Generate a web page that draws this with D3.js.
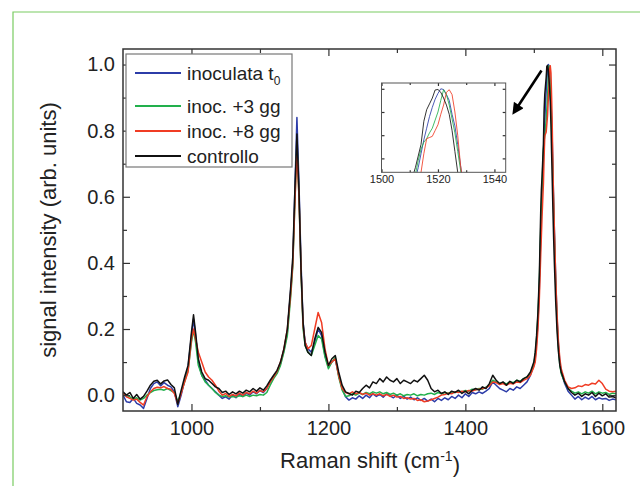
<!DOCTYPE html>
<html>
<head>
<meta charset="utf-8">
<script src="https://cdn.jsdelivr.net/npm/d3@7"></script>
<style>
  body { margin: 0; background: #fff; }
  svg { display: block; font-family: "Liberation Sans", Arial, sans-serif; }
</style>
</head>
<body>
<script>
// wavenumbers (cm-1), finer steps round the peaks
var wavenumber = [
  900, 905, 910, 915, 920, 925, 930, 935, 940, 945, 950, 955, 960, 965, 970, 975, 980, 985, 990, 995,
  1000, 1003, 1006, 1010,
  1015, 1020, 1025, 1030, 1035, 1040, 1045, 1050, 1055, 1060, 1065, 1070, 1075, 1080, 1085, 1090, 1095, 1100, 1105, 1110, 1115, 1120, 1125, 1130, 1135, 1140, 1145,
  1148, 1151, 1154, 1157, 1160, 1163,
  1166,
  1170, 1175, 1180, 1185, 1190, 1195, 1200, 1205, 1210, 1215,
  1220, 1225, 1230, 1235, 1240, 1245, 1250, 1255, 1260, 1265,
  1270, 1275, 1280, 1285, 1290, 1295, 1300, 1305, 1310, 1315,
  1320, 1325, 1330, 1335, 1340, 1345, 1350, 1355, 1360, 1365,
  1370, 1375, 1380, 1385, 1390, 1395, 1400, 1405, 1410, 1415,
  1420, 1425, 1430, 1435, 1440, 1445, 1450, 1455, 1460, 1465,
  1470, 1475, 1480, 1485, 1490, 1495, 1500,
  1502, 1504, 1506, 1508,
  1510, 1511, 1512, 1513, 1514, 1515, 1516, 1517, 1518, 1519, 1520, 1521, 1522, 1523, 1524, 1525, 1526, 1527, 1528, 1529, 1530,
  1532, 1534, 1536, 1538, 1540,
  1545, 1550, 1555, 1560, 1565, 1570, 1575, 1580, 1585, 1590, 1595, 1600, 1605, 1610, 1615, 1620
]

var inoculataT0 = [
  0.0, -0.02, -0.022, -0.01, -0.025, -0.03, -0.04, -0.01, 0.02, 0.035, 0.04, 0.028, 0.038, 0.03, 0.025, 0.01, -0.035, 0.0, 0.045, 0.085,
  0.18, 0.23, 0.18, 0.1,
  0.06, 0.045, 0.03, 0.02, 0.01, 0.0, -0.01, -0.005, -0.012, 0.0, -0.008, 0.004, -0.004, 0.006, 0.0, 0.01, 0.004, 0.014, 0.008, 0.02, 0.04, 0.055, 0.07, 0.095, 0.135, 0.19, 0.32,
  0.4, 0.62, 0.84, 0.64, 0.4, 0.22,
  0.16,
  0.14, 0.13, 0.16, 0.2, 0.18, 0.12, 0.085, 0.1, 0.11, 0.06,
  0.02, -0.005, -0.015, -0.008, -0.012, -0.002, -0.01, 0.0, -0.008, 0.004,
  -0.004, 0.002, -0.006, 0.004, -0.002, -0.008, 0.0, -0.01, -0.004, -0.012,
  -0.006, -0.014, -0.008, -0.016, -0.01, -0.018, -0.012, -0.02, -0.01, -0.016,
  -0.008, -0.014, -0.004, -0.01, 0.0, -0.008, 0.004, -0.004, 0.008, 0.004,
  0.01, 0.005, 0.012, 0.02, 0.04, 0.03, 0.02, 0.015, 0.01, 0.02,
  0.015, 0.025, 0.02, 0.03, 0.04, 0.06, 0.09,
  0.11, 0.16, 0.22, 0.32,
  0.48, 0.55, 0.61, 0.66, 0.72, 0.78, 0.83, 0.88, 0.92, 0.955, 0.98, 1.0, 0.997, 0.975, 0.95, 0.89, 0.84, 0.76, 0.67, 0.58, 0.5,
  0.35, 0.23, 0.15, 0.1, 0.07,
  0.035, 0.012, 0.0, -0.012, -0.004, -0.014, -0.006, -0.012, -0.004, -0.014, -0.008, -0.012, -0.01, -0.016, -0.012, -0.014
]

var inoc3gg = [
  0.005, 0.0, -0.005, -0.012, -0.008, -0.015, -0.01, 0.0, 0.008, 0.014, 0.016, 0.018, 0.015, 0.02, 0.014, 0.008, -0.02, 0.01, 0.04, 0.075,
  0.16, 0.197, 0.16, 0.09,
  0.06, 0.04, 0.03, 0.02, 0.008, 0.0, -0.004, -0.002, -0.006, -0.004, -0.006, -0.002, -0.004, 0.0, -0.004, 0.0, -0.002, 0.002, 0.0, 0.008, 0.03, 0.05, 0.065, 0.09, 0.13, 0.18, 0.3,
  0.39, 0.58, 0.76, 0.6, 0.37, 0.2,
  0.15,
  0.13, 0.12, 0.15, 0.18, 0.17, 0.115, 0.08, 0.1, 0.115, 0.055,
  0.015, -0.004, -0.002, 0.004, 0.0, 0.006, 0.002, 0.008, 0.004, 0.01,
  0.006, 0.01, 0.004, 0.008, 0.002, 0.006, 0.0, 0.004, -0.002, 0.002,
  0.0, 0.004, -0.002, 0.002, 0.0, 0.004, 0.006, 0.002, 0.008, 0.004,
  0.008, 0.006, 0.01, 0.008, 0.012, 0.01, 0.014, 0.012, 0.018, 0.016,
  0.02, 0.018, 0.024, 0.03, 0.045, 0.04, 0.035, 0.038, 0.034, 0.04,
  0.038, 0.045, 0.042, 0.05, 0.055, 0.065, 0.095,
  0.12, 0.17, 0.24, 0.34,
  0.5, 0.57, 0.63, 0.69, 0.74, 0.77, 0.785, 0.81, 0.83, 0.865, 0.9, 0.95, 0.996, 0.975, 0.93, 0.87, 0.81, 0.73, 0.65, 0.56, 0.48,
  0.33, 0.22, 0.14, 0.09, 0.065,
  0.04, 0.02, 0.012, 0.006, 0.01, 0.004, 0.01, 0.006, 0.012, 0.004, 0.01, 0.006, 0.008, 0.002, 0.006, 0.004
]

var inoc8gg = [
  0.008, -0.005, -0.01, -0.015, -0.012, -0.022, -0.03, -0.005, 0.01, 0.02, 0.024, 0.022, 0.026, 0.02, 0.018, 0.005, -0.025, 0.005, 0.04, 0.07,
  0.17, 0.2, 0.17, 0.13,
  0.1, 0.07, 0.055, 0.045, 0.03, 0.012, 0.0, 0.005, -0.004, 0.002, -0.002, 0.006, 0.0, 0.008, 0.004, 0.012, 0.006, 0.014, 0.01, 0.02, 0.04, 0.055, 0.072, 0.1, 0.14, 0.2, 0.31,
  0.4, 0.58, 0.74, 0.6, 0.38, 0.21,
  0.16,
  0.14, 0.15, 0.2, 0.25, 0.22, 0.14, 0.09, 0.1, 0.11, 0.06,
  0.02, 0.008, 0.004, 0.01, 0.004, 0.008, 0.002, 0.006, 0.0, 0.004,
  0.0, 0.004, -0.002, 0.002, -0.004, 0.0, -0.006, -0.004, -0.01, -0.008,
  -0.012, -0.01, -0.016, -0.014, -0.02, -0.018, -0.014, -0.01, -0.006, 0.0,
  0.002, 0.006, 0.004, 0.01, 0.008, 0.012, 0.01, 0.014, 0.012, 0.016,
  0.018, 0.02, 0.022, 0.028, 0.04, 0.038, 0.032, 0.035, 0.03, 0.036,
  0.034, 0.04, 0.038, 0.045, 0.05, 0.06, 0.085,
  0.1, 0.14, 0.2, 0.29,
  0.42, 0.48, 0.54, 0.59, 0.64, 0.72, 0.785, 0.79, 0.795, 0.82, 0.845, 0.89, 0.93, 0.985, 0.996, 0.975, 0.9, 0.8, 0.67, 0.58, 0.5,
  0.35, 0.24, 0.16, 0.11, 0.08,
  0.045, 0.025, 0.02, 0.022, 0.028, 0.026, 0.032, 0.03, 0.036, 0.034, 0.045, 0.035, 0.018, 0.012, 0.01, 0.012
]

var controllo = [
  0.01, 0.0, 0.008, -0.01, 0.002, -0.012, -0.004, 0.012, 0.03, 0.042, 0.045, 0.034, 0.043, 0.046, 0.032, 0.022, -0.028, 0.015, 0.055, 0.09,
  0.19, 0.243, 0.19, 0.11,
  0.07, 0.05, 0.045, 0.035, 0.025, 0.02, 0.008, 0.012, 0.002, 0.01, 0.004, 0.012, 0.006, 0.015, 0.01, 0.02, 0.012, 0.022, 0.015, 0.028, 0.045, 0.06, 0.075, 0.1, 0.14, 0.2, 0.33,
  0.42, 0.62, 0.79, 0.62, 0.38, 0.22,
  0.15,
  0.13, 0.12, 0.17, 0.205, 0.19, 0.13, 0.09, 0.11, 0.12, 0.07,
  0.03, 0.01, 0.005, 0.0, 0.012, 0.008, 0.02, 0.03, 0.022, 0.04,
  0.035, 0.05, 0.04, 0.055, 0.045, 0.04, 0.05, 0.035, 0.045, 0.04,
  0.035, 0.045, 0.04, 0.05, 0.06, 0.045, 0.02, 0.01, 0.015, 0.005,
  0.01, 0.002, 0.012, 0.008, 0.015, 0.005, 0.012, 0.004, 0.015, 0.02,
  0.015, 0.025, 0.02, 0.035, 0.06, 0.045, 0.035, 0.04, 0.03, 0.042,
  0.035, 0.045, 0.04, 0.05, 0.055, 0.07, 0.1,
  0.13, 0.18, 0.25, 0.36,
  0.55, 0.62, 0.66, 0.71, 0.76, 0.86, 0.91, 0.935, 0.96, 0.995, 0.997, 0.985, 0.96, 0.93, 0.89, 0.82, 0.73, 0.64, 0.55, 0.47, 0.4,
  0.28, 0.19, 0.13, 0.09, 0.07,
  0.04, 0.02, 0.008, 0.0, 0.006, -0.004, 0.004, 0.0, 0.008, -0.004, 0.006, -0.002, 0.004, -0.006, -0.004, -0.008
]

var seriesNames = ["inoculata t", "inoc. +3 gg", "inoc. +8 gg", "controllo"]
var seriesColors = ["#2c3ca8", "#22b04c", "#f03c24", "#111111"]
var xTicks = [1000, 1200, 1400, 1600]
var xMinorTicks = [1100, 1300, 1500]
var yTicks = [0, 0.2, 0.4, 0.6, 0.8, 1.0]
var yMinorTicks = [0.1, 0.3, 0.5, 0.7, 0.9]
var insetXTicks = [1500, 1520, 1540]
var insetXMinorTicks = [1510, 1530]
var insetYTicks = [0.7, 0.8, 0.9, 1.0]

var allSeries = [inoculataT0, inoc3gg, inoc8gg, controllo]

var width = 640
var height = 486
var plot = {left: 123, top: 49, right: 616, bottom: 411}
var inset = {left: 381.5, top: 83, right: 505.7, bottom: 172.3}

var svg = d3.select("body").append("svg")
    .attr("width", width)
    .attr("height", height)

svg.append("rect").attr("width", width).attr("height", height).attr("fill", "#fff")

// groene rand van de pagina (alleen boven en links zichtbaar)
svg.append("path")
    .attr("d", "M13,486 L13,12 L640,12")
    .attr("fill", "none")
    .attr("stroke", "#7acc62")
    .attr("stroke-width", 1.2)

var x = d3.scaleLinear().domain([900, 1620]).range([plot.left, plot.right])
var y = d3.scaleLinear().domain([-0.048, 1.047]).range([plot.bottom, plot.top])

svg.append("defs").append("clipPath").attr("id", "clipMain")
  .append("rect")
    .attr("x", plot.left).attr("y", plot.top)
    .attr("width", plot.right - plot.left).attr("height", plot.bottom - plot.top)

var line = d3.line()
    .x((d, i) => x(wavenumber[i]))
    .y(d => y(d))

svg.append("g").attr("clip-path", "url(#clipMain)")
  .selectAll("path")
  .data(allSeries)
  .enter().append("path")
    .attr("d", line)
    .attr("fill", "none")
    .attr("stroke", (d, i) => seriesColors[i])
    .attr("stroke-width", 1.5)
    .attr("stroke-linejoin", "round")

// assen, ticks naar binnen
function styleAxis(g, size) {
  g.select(".domain").remove()
  g.selectAll("line").attr("stroke", "#333").attr("stroke-width", 1.2)
  g.attr("font-family", null).attr("font-size", null)
  g.selectAll("text").attr("fill", "#222").style("font-size", size + "px")
}

svg.append("g")
    .attr("transform", `translate(0,${plot.bottom})`)
    .call(d3.axisBottom(x).tickValues(xTicks).tickSize(-7).tickPadding(10).tickFormat(d3.format("d")))
    .call(g => styleAxis(g, 20))
svg.append("g")
    .attr("transform", `translate(0,${plot.bottom})`)
    .call(d3.axisBottom(x).tickValues(xMinorTicks).tickSize(-4).tickFormat(""))
    .call(g => styleAxis(g, 20))
svg.append("g")
    .attr("transform", `translate(0,${plot.top})`)
    .call(d3.axisTop(x).tickValues(xTicks).tickSize(-7).tickFormat(""))
    .call(g => styleAxis(g, 20))
svg.append("g")
    .attr("transform", `translate(0,${plot.top})`)
    .call(d3.axisTop(x).tickValues(xMinorTicks).tickSize(-4).tickFormat(""))
    .call(g => styleAxis(g, 20))

svg.append("g")
    .attr("transform", `translate(${plot.left},0)`)
    .call(d3.axisLeft(y).tickValues(yTicks).tickSize(-7).tickPadding(8).tickFormat(d3.format(".1f")))
    .call(g => styleAxis(g, 20))
svg.append("g")
    .attr("transform", `translate(${plot.left},0)`)
    .call(d3.axisLeft(y).tickValues(yMinorTicks).tickSize(-4).tickFormat(""))
    .call(g => styleAxis(g, 20))
svg.append("g")
    .attr("transform", `translate(${plot.right},0)`)
    .call(d3.axisRight(y).tickValues(yTicks).tickSize(-7).tickFormat(""))
    .call(g => styleAxis(g, 20))
svg.append("g")
    .attr("transform", `translate(${plot.right},0)`)
    .call(d3.axisRight(y).tickValues(yMinorTicks).tickSize(-4).tickFormat(""))
    .call(g => styleAxis(g, 20))

svg.append("rect")
    .attr("x", plot.left).attr("y", plot.top)
    .attr("width", plot.right - plot.left).attr("height", plot.bottom - plot.top)
    .attr("fill", "none")
    .attr("stroke", "#333")
    .attr("stroke-width", 1.5)

// label x as
var xLabel = svg.append("text")
    .attr("x", 370).attr("y", 468)
    .attr("text-anchor", "middle")
    .attr("fill", "#222")
    .style("font-size", "22px")
xLabel.append("tspan").text("Raman shift (cm")
xLabel.append("tspan").attr("dy", "-0.5em").style("font-size", "14px").text("-1")
xLabel.append("tspan").attr("dy", "0.5em").text(")")

// label y as
svg.append("text")
    .attr("transform", "translate(56,230) rotate(-90)")
    .attr("text-anchor", "middle")
    .attr("fill", "#222")
    .style("font-size", "22px")
    .text("signal intensity (arb. units)")

// legenda
var legendBox = {x: 126, y: 54, w: 166, h: 113}
svg.append("rect")
    .attr("x", legendBox.x).attr("y", legendBox.y)
    .attr("width", legendBox.w).attr("height", legendBox.h)
    .attr("fill", "#fff")
    .attr("stroke", "#777")
    .attr("stroke-width", 1.2)

var legend = svg.selectAll(".legend")
    .data(seriesNames)
    .enter().append("g")
    .attr("class", "legend")
    .attr("transform", (d, i) => `translate(${legendBox.x}, ${legendBox.y + 19 + i * 25 + (i > 0 ? 8 : 0)})`)

legend.append("line")
    .attr("x1", 9).attr("x2", 55)
    .attr("stroke", (d, i) => seriesColors[i])
    .attr("stroke-width", 2)

var legendText = legend.append("text")
    .attr("x", 61)
    .attr("dy", ".35em")
    .attr("fill", "#222")
    .style("font-size", "19px")
legendText.append("tspan").text(d => d)
legendText.filter((d, i) => i === 0).append("tspan")
    .attr("dy", "0.45em")
    .style("font-size", "12px")
    .text("0")

// inzet rond de piek bij 1520
var xi = d3.scaleLinear().domain([1500, 1544]).range([inset.left, inset.right])
var yi = d3.scaleLinear().domain([0.64, 1.025]).range([inset.bottom, inset.top])

svg.select("defs").append("clipPath").attr("id", "clipInset")
  .append("rect")
    .attr("x", inset.left).attr("y", inset.top)
    .attr("width", inset.right - inset.left).attr("height", inset.bottom - inset.top)

svg.append("rect")
    .attr("x", inset.left).attr("y", inset.top)
    .attr("width", inset.right - inset.left).attr("height", inset.bottom - inset.top)
    .attr("fill", "#fff")

var insetLine = d3.line()
    .x((d, i) => xi(wavenumber[i]))
    .y(d => yi(d))

svg.append("g").attr("clip-path", "url(#clipInset)")
  .selectAll("path")
  .data(allSeries)
  .enter().append("path")
    .attr("d", insetLine)
    .attr("fill", "none")
    .attr("stroke", (d, i) => seriesColors[i])
    .attr("stroke-width", 1)
    .attr("stroke-opacity", 0.85)

svg.append("g")
    .attr("transform", `translate(0,${inset.bottom})`)
    .call(d3.axisBottom(xi).tickValues(insetXTicks).tickSize(-3).tickPadding(3).tickFormat(d3.format("d")))
    .call(g => styleAxis(g, 11))
svg.append("g")
    .attr("transform", `translate(0,${inset.bottom})`)
    .call(d3.axisBottom(xi).tickValues(insetXMinorTicks).tickSize(-2).tickFormat(""))
    .call(g => styleAxis(g, 11))
svg.append("g")
    .attr("transform", `translate(0,${inset.top})`)
    .call(d3.axisTop(xi).tickValues(insetXTicks).tickSize(-3).tickFormat(""))
    .call(g => styleAxis(g, 11))
svg.append("g")
    .attr("transform", `translate(0,${inset.top})`)
    .call(d3.axisTop(xi).tickValues(insetXMinorTicks).tickSize(-2).tickFormat(""))
    .call(g => styleAxis(g, 11))
svg.append("g")
    .attr("transform", `translate(${inset.left},0)`)
    .call(d3.axisLeft(yi).tickValues(insetYTicks).tickSize(-3).tickFormat(""))
    .call(g => styleAxis(g, 11))
svg.append("g")
    .attr("transform", `translate(${inset.right},0)`)
    .call(d3.axisRight(yi).tickValues(insetYTicks).tickSize(-3).tickFormat(""))
    .call(g => styleAxis(g, 11))

svg.append("rect")
    .attr("x", inset.left).attr("y", inset.top)
    .attr("width", inset.right - inset.left).attr("height", inset.bottom - inset.top)
    .attr("fill", "none")
    .attr("stroke", "#555")
    .attr("stroke-width", 1)

// pijl naar de piek
svg.select("defs").append("marker")
    .attr("id", "arrowHead")
    .attr("viewBox", "0 0 10 10")
    .attr("refX", 2).attr("refY", 5)
    .attr("markerWidth", 5).attr("markerHeight", 4.5)
    .attr("orient", "auto")
  .append("path")
    .attr("d", "M0,0 L10,5 L0,10 Z")
    .attr("fill", "#000")

svg.append("line")
    .attr("x1", 541.5).attr("y1", 70.5)
    .attr("x2", 517.5).attr("y2", 107)
    .attr("stroke", "#000")
    .attr("stroke-width", 2.6)
    .attr("marker-end", "url(#arrowHead)")
</script>
</body>
</html>
